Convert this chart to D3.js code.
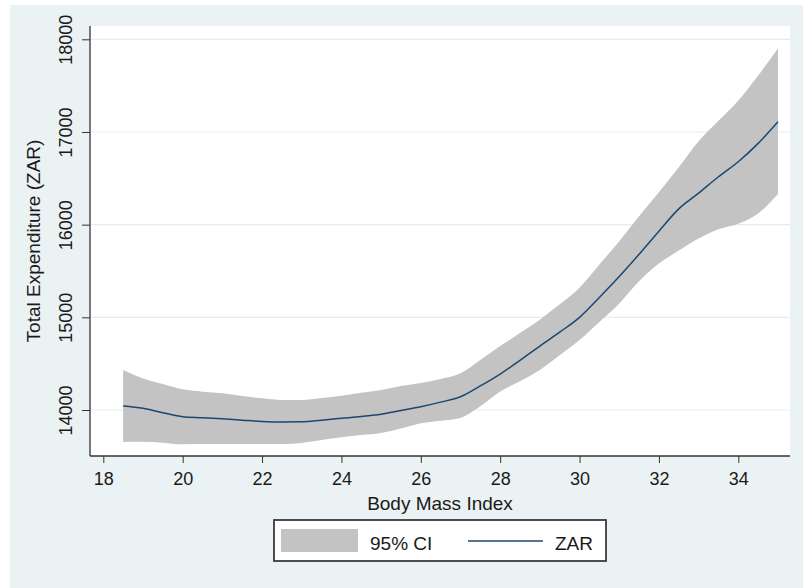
<!DOCTYPE html>
<html>
<head>
<meta charset="utf-8">
<script src="https://cdn.jsdelivr.net/npm/d3@7"></script>
<style>
  html, body { margin: 0; padding: 0; background: #ffffff; }
  svg { display: block; font-family: "Liberation Sans", Arial, Helvetica, sans-serif; }
</style>
</head>
<body>
<svg id="chart" width="803" height="588"></svg>
<script>
// ---- data ----
const bmi = [18.5, 19, 19.5, 20, 20.5, 21, 21.5, 22, 22.5, 23, 23.5, 24, 24.5, 25, 25.5, 26, 26.5,
             27, 27.5, 28, 28.5, 29, 29.5, 30, 30.5, 31, 31.5, 32, 32.5, 33, 33.5, 34, 34.5, 35];
const fitted = [14043, 14018, 13971, 13928, 13917, 13905, 13890, 13876, 13870, 13872, 13890, 13910, 13930,
                13954, 13995, 14036, 14085, 14143, 14260, 14388, 14535, 14690, 14840, 15000, 15215,
                15440, 15680, 15930, 16170, 16340, 16517, 16679, 16877, 17110];
const upperCI = [14431, 14341, 14280, 14223, 14198, 14180, 14151, 14126, 14108, 14108, 14130, 14155, 14185,
                 14216, 14259, 14290, 14335, 14396, 14540, 14690, 14830, 14975, 15140, 15320, 15570,
                 15820, 16090, 16350, 16620, 16900, 17120, 17340, 17610, 17900];
const lowerCI = [13655, 13658, 13647, 13630, 13632, 13633, 13633, 13633, 13633, 13645, 13675, 13705, 13730,
                 13752, 13800, 13856, 13885, 13915, 14040, 14200, 14310, 14431, 14590, 14755, 14950,
                 15150, 15390, 15580, 15720, 15850, 15950, 16010, 16120, 16330];
const xTicks = [18, 20, 22, 24, 26, 28, 30, 32, 34];
const yTicks = [14000, 15000, 16000, 17000, 18000];
const xTitle = "Body Mass Index";
const yTitle = "Total Expenditure (ZAR)";
const legendLabels = ["95% CI", "ZAR"];

// ---- layout ----
const svg = d3.select("#chart");
const plot = { left: 90, right: 790, top: 26, bottom: 456 };
const colors = { bg: "#eaf2f3", band: "#c3c3c3", line: "#1a476f", grid: "#e4edf0", axis: "#333333", text: "#1a1a1a" };

const x = d3.scaleLinear().domain([18, 34]).range([103.3, 738.3]);
const y = d3.scaleLinear().domain([14000, 18000]).range([410, 39.3]);

const rows = bmi.map((b, i) => ({ b, f: fitted[i], u: upperCI[i], l: lowerCI[i] }));

// outer background
svg.append("rect").attr("x", 10).attr("y", 5).attr("width", 793).attr("height", 583).attr("fill", colors.bg);
// plot region
svg.append("rect").attr("x", plot.left).attr("y", plot.top)
  .attr("width", plot.right - plot.left).attr("height", plot.bottom - plot.top).attr("fill", "#ffffff");

// gridlines
svg.append("g").selectAll("line").data(yTicks).join("line")
  .attr("x1", plot.left + 1).attr("x2", plot.right)
  .attr("y1", d => y(d)).attr("y2", d => y(d))
  .attr("stroke", colors.grid).attr("stroke-width", 1.2);

// CI band
svg.append("path").datum(rows)
  .attr("d", d3.area().x(d => x(d.b)).y0(d => y(d.l)).y1(d => y(d.u)).curve(d3.curveMonotoneX))
  .attr("fill", colors.band);

// fitted line
svg.append("path").datum(rows)
  .attr("d", d3.line().x(d => x(d.b)).y(d => y(d.f)).curve(d3.curveMonotoneX))
  .attr("fill", "none").attr("stroke", colors.line).attr("stroke-width", 1.5);

// x axis
const gx = svg.append("g").attr("transform", `translate(0,${plot.bottom})`)
  .call(d3.axisBottom(x).tickValues(xTicks).tickSize(7).tickPadding(6).tickFormat(d3.format("d")));
gx.select(".domain").remove();
gx.selectAll(".tick line").attr("stroke", colors.axis);
gx.selectAll(".tick text").attr("font-size", 18).attr("fill", colors.text)
  .attr("font-family", "'Liberation Sans', Arial, sans-serif").attr("dy", null).attr("y", 29);
svg.append("line").attr("x1", plot.left).attr("x2", plot.right)
  .attr("y1", plot.bottom).attr("y2", plot.bottom).attr("stroke", colors.axis).attr("stroke-width", 1.3);

// y axis
const gy = svg.append("g").attr("transform", `translate(${plot.left},0)`)
  .call(d3.axisLeft(y).tickValues(yTicks).tickSize(8).tickFormat(d3.format("d")));
gy.select(".domain").remove();
gy.selectAll(".tick line").attr("stroke", colors.axis);
gy.selectAll(".tick text")
  .attr("font-size", 18).attr("fill", colors.text)
  .attr("font-family", "'Liberation Sans', Arial, sans-serif")
  .attr("x", 0).attr("y", -18).attr("dy", null)
  .attr("text-anchor", "middle").attr("transform", "rotate(-90)");
svg.append("line").attr("x1", plot.left).attr("x2", plot.left)
  .attr("y1", plot.top).attr("y2", plot.bottom).attr("stroke", colors.axis).attr("stroke-width", 1.3);

// axis titles
svg.append("text").attr("x", (plot.left + plot.right) / 2).attr("y", 510)
  .attr("text-anchor", "middle").attr("font-size", 19).attr("fill", colors.text).text(xTitle);
svg.append("text").attr("transform", `translate(40,${(plot.top + plot.bottom) / 2}) rotate(-90)`)
  .attr("text-anchor", "middle").attr("font-size", 19).attr("fill", colors.text).text(yTitle);

// legend
const lg = svg.append("g");
lg.append("rect").attr("x", 274).attr("y", 520).attr("width", 332).attr("height", 41)
  .attr("fill", "#ffffff").attr("stroke", "#3a3a3a").attr("stroke-width", 1.8);
lg.append("rect").attr("x", 281).attr("y", 529).attr("width", 77).attr("height", 23).attr("fill", colors.band);
lg.append("text").attr("x", 370).attr("y", 550).attr("font-size", 19).attr("fill", colors.text).text(legendLabels[0]);
lg.append("line").attr("x1", 468).attr("x2", 543).attr("y1", 541).attr("y2", 541)
  .attr("stroke", colors.line).attr("stroke-width", 1.4);
lg.append("text").attr("x", 555).attr("y", 550).attr("font-size", 19).attr("fill", colors.text).text(legendLabels[1]);
</script>
</body>
</html>
